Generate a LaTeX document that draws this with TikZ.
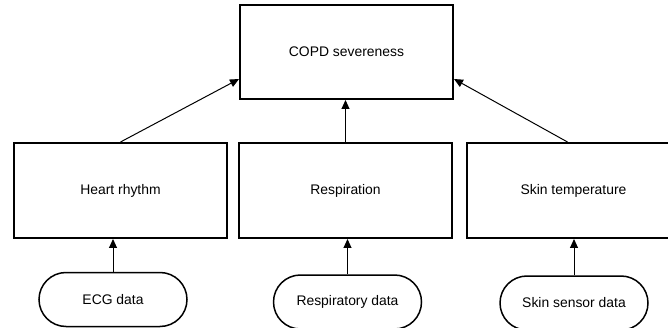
\documentclass[tikz,border=0pt]{standalone}
\usepackage{fontspec}
\setmainfont{Liberation Sans}
\usetikzlibrary{arrows.meta, calc}

\begin{document}
\begin{tikzpicture}[x=1pt, y=-1pt, >={Triangle[length=9pt, width=8pt]},
  every node/.style={font=\fontsize{13.9}{16}\selectfont},
  block/.style={draw, line width=2pt, minimum width=213pt, minimum height=95pt, inner sep=0pt},
  source/.style={draw, line width=1.5pt, rounded corners=27pt, minimum width=148pt, minimum height=54pt, inner sep=0pt}]
  \useasboundingbox (0,0) rectangle (668,328);
  \node[block, minimum height=94pt] (copd) at (346.5,52.0) {COPD severeness};
  \node[block] (heart) at (120.5,190.5) {Heart rhythm};
  \node[block] (resp) at (345.5,190.5) {Respiration};
  \node[block] (skin) at (573.5,190.5) {Skin temperature};
  \node[source] (ecg) at (113.0,299.5) {ECG data};
  \node[source] (respdata) at (347.5,302.0) {Respiratory data};
  \node[source] (skindata) at (574.0,303.0) {Skin sensor data};
  \draw[->, line width=1pt] (heart.north) -- ($(copd.south west)+(0,-21)$);
  \draw[->, line width=1pt] (resp.north) -- (resp.north |- copd.south);
  \draw[->, line width=1pt] ($(skin.north)+(-6,0)$) -- ($(copd.south east)+(0,-21)$);
  \draw[->, line width=1pt] (ecg.north) -- (ecg.north |- heart.south);
  \draw[->, line width=1pt] (respdata.north) -- (respdata.north |- resp.south);
  \draw[->, line width=1pt] (skindata.north) -- (skindata.north |- skin.south);
\end{tikzpicture}
\end{document}
